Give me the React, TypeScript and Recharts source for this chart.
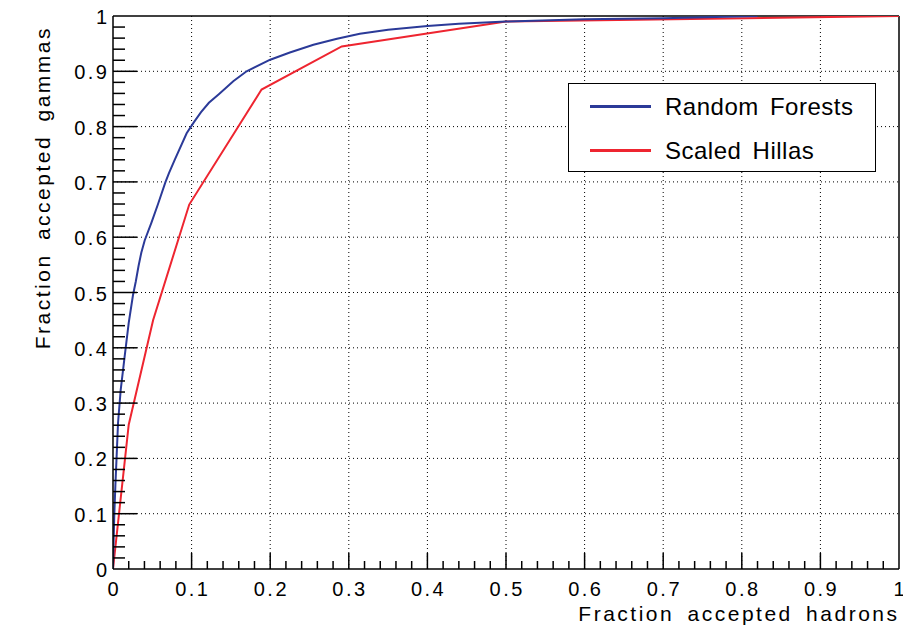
import React from "react";
import { LineChart, Line, XAxis, YAxis, ReferenceLine, Label } from "recharts";

// Random Forests ROC curve
const RF_X = [0, 0.0008, 0.0017, 0.003, 0.0045, 0.0064, 0.0098, 0.0148, 0.02, 0.0254, 0.029, 0.0325, 0.036, 0.0403, 0.0488, 0.0573, 0.0666, 0.0712, 0.0785, 0.0937, 0.103, 0.112, 0.122, 0.135, 0.153, 0.17, 0.2, 0.225, 0.255, 0.285, 0.314, 0.35, 0.4, 0.44, 0.5, 0.6, 0.7, 0.82];
const RF_Y = [0, 0.05, 0.1, 0.15, 0.2, 0.264, 0.324, 0.384, 0.445, 0.495, 0.52, 0.548, 0.572, 0.594, 0.626, 0.66, 0.699, 0.716, 0.74, 0.788, 0.808, 0.826, 0.843, 0.859, 0.882, 0.9, 0.921, 0.934, 0.948, 0.959, 0.968, 0.975, 0.982, 0.986, 0.99, 0.994, 0.996, 1.0];

// Scaled Hillas ROC curve
const SH_X = [0, 0.02, 0.051, 0.097, 0.189, 0.291, 0.5, 1.0];
const SH_Y = [0, 0.261, 0.45, 0.659, 0.867, 0.945, 0.99, 1.0];

const TICK_LABELS = ["0", "0.1", "0.2", "0.3", "0.4", "0.5", "0.6", "0.7", "0.8", "0.9", "1"];
const GRID_TICKS = [0.1, 0.2, 0.3, 0.4, 0.5, 0.6, 0.7, 0.8, 0.9];
const ALL_TICKS = Array.from({ length: 51 }, (_, i) => i / 50);

const SERIES_NAMES = ["Random Forests", "Scaled Hillas"];
const BLUE = "#2b3a98";
const RED = "#ee2530";
const FONT = "'Liberation Sans', Arial, sans-serif";

const rfData = RF_X.map((x, i) => ({ x, y: RF_Y[i] }));
const shData = SH_X.map((x, i) => ({ x, y: SH_Y[i] }));

const majorIndex = (v: number) => {
  const r = Math.round(v * 10);
  return Math.abs(v * 10 - r) < 1e-6 ? r : -1;
};

const XTick = (props: any) => {
  const { x, y, payload } = props;
  const mi = majorIndex(payload.value);
  const major = mi >= 0;
  return (
    <g>
      {mi !== 0 && mi !== 10 && (
        <line x1={x} x2={x} y1={y} y2={y - (major ? 16 : 8)} stroke="#000" strokeWidth={1.5} />
      )}
      {major && (
        <text x={x + 1.2} y={y + 27} textAnchor="middle" fontFamily={FONT} fontSize={20} letterSpacing={2.5} fill="#000">
          {TICK_LABELS[mi]}
        </text>
      )}
    </g>
  );
};

const YTick = (props: any) => {
  const { x, y, payload } = props;
  const mi = majorIndex(payload.value);
  const major = mi >= 0;
  return (
    <g>
      {mi !== 0 && mi !== 10 && (
        <line x1={x} x2={x + (major ? 24 : 12)} y1={y} y2={y} stroke="#000" strokeWidth={1.5} />
      )}
      {major && (
        <text x={x - 3.5} y={y + 8} textAnchor="end" fontFamily={FONT} fontSize={20} letterSpacing={2.5} fill="#000">
          {TICK_LABELS[mi]}
        </text>
      )}
    </g>
  );
};

const LegendBox = () => (
  <div
    style={{
      position: "absolute",
      left: 568,
      top: 83,
      width: 306,
      height: 87,
      border: "1.5px solid #000",
      background: "#fff",
      fontFamily: FONT,
      fontSize: 24,
      letterSpacing: 0.5,
      wordSpacing: 4,
    }}
  >
    {SERIES_NAMES.map((name, i) => (
      <div key={name} style={{ position: "absolute", left: 0, top: i === 0 ? 8 : 52, height: 30, width: 306 }}>
        <div
          style={{
            position: "absolute",
            left: 21,
            top: 13,
            width: 61,
            height: 2.5,
            background: i === 0 ? BLUE : RED,
          }}
        />
        <span style={{ position: "absolute", left: 96, top: 0, lineHeight: "30px", whiteSpace: "nowrap" }}>{name}</span>
      </div>
    ))}
  </div>
);

export default function App() {
  return (
    <div style={{ position: "absolute", left: 0, top: 0, width: 903, height: 635, background: "#fff" }}>
      <LineChart width={903} height={635} margin={{ top: 16, right: 4, bottom: 0, left: 0 }}>
        {GRID_TICKS.map((v) => (
          <ReferenceLine key={"gx" + v} x={v} stroke="#000" strokeWidth={1} strokeDasharray="1 3" />
        ))}
        {GRID_TICKS.map((v) => (
          <ReferenceLine key={"gy" + v} y={v} stroke="#000" strokeWidth={1} strokeDasharray="1 3" />
        ))}
        <ReferenceLine x={1} stroke="#000" strokeWidth={1.5} />
        <ReferenceLine y={1} stroke="#000" strokeWidth={1.5} />
        <XAxis
          dataKey="x"
          type="number"
          domain={[0, 1]}
          ticks={ALL_TICKS}
          interval={0}
          tickSize={0}
          tickMargin={0}
          tickLine={false}
          height={66}
          axisLine={{ stroke: "#000", strokeWidth: 1.5 }}
          tick={<XTick />}
          allowDataOverflow
        >
          <Label
            content={() => (
              <text x={899.5} y={621} textAnchor="end" fontFamily={FONT} fontSize={21} letterSpacing={2.5} wordSpacing={5} fill="#000">
                Fraction accepted hadrons
              </text>
            )}
          />
        </XAxis>
        <YAxis
          dataKey="y"
          type="number"
          domain={[0, 1]}
          ticks={ALL_TICKS}
          interval={0}
          tickSize={0}
          tickMargin={0}
          tickLine={false}
          width={113}
          axisLine={{ stroke: "#000", strokeWidth: 1.5 }}
          tick={<YTick />}
          allowDataOverflow
        >
          <Label
            content={() => (
              <text
                x={50}
                y={26}
                transform="rotate(-90 50 26)"
                textAnchor="end"
                fontFamily={FONT}
                fontSize={21}
                letterSpacing={2.5}
                wordSpacing={5}
                fill="#000"
              >
                Fraction accepted gammas
              </text>
            )}
          />
        </YAxis>
        <Line
          data={shData}
          dataKey="y"
          type="linear"
          stroke={RED}
          strokeWidth={2}
          dot={false}
          isAnimationActive={false}
          name={SERIES_NAMES[1]}
        />
        <Line
          data={rfData}
          dataKey="y"
          type="linear"
          stroke={BLUE}
          strokeWidth={2}
          dot={false}
          isAnimationActive={false}
          name={SERIES_NAMES[0]}
        />
      </LineChart>
      <LegendBox />
    </div>
  );
}
